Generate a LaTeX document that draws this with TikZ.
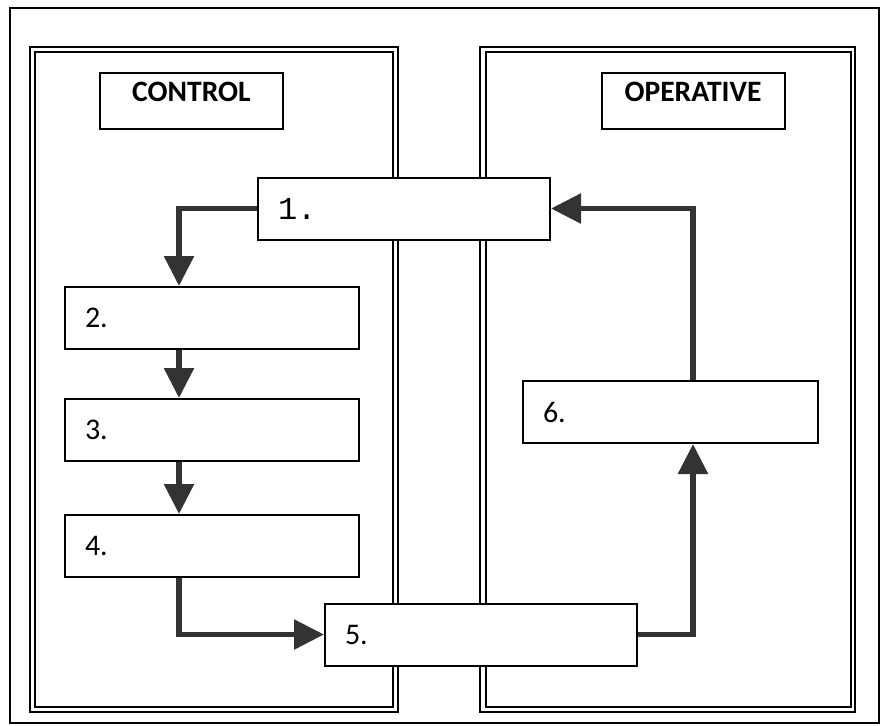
\documentclass[tikz,border=0pt]{standalone}
\usepackage{fontspec}
\setmainfont{Carlito}
\newfontfamily\monofont{Liberation Mono}
\usetikzlibrary{positioning,arrows.meta}

\begin{document}
\begin{tikzpicture}[
      x=0.5pt, y=-0.5pt,
      numbox/.style={draw,fill=white,line width=1pt,minimum height=31pt,inner xsep=10pt,inner ysep=0pt,text width=#1,align=left,font=\fontsize{15}{17}\selectfont},
      titlebox/.style={draw,line width=1pt,inner sep=0pt,text width=91.5pt,text height=14pt,text depth=14pt,align=center,font=\bfseries\fontsize{14.8}{17}\selectfont},
      flow/.style={draw=black!80,line width=2.8pt,-{Triangle[width=14.5pt,length=15pt]}},
      panel/.style={line width=1.1pt}
    ]
    \useasboundingbox (0,0) rectangle (880,725);
    \draw[line width=0.6pt] (10,8) rectangle (879,723);
    % the two panels, double lined
    \draw[panel,line width=1.4pt] (30,47) rectangle (398,712);
    \draw[panel] (35,52) rectangle (393,707);
    \draw[panel,line width=1.4pt] (480,47) rectangle (855,712);
    \draw[panel] (486,52) rectangle (851,707);
    \node[titlebox] (ctrl) at (191.5,101) {CONTROL};
    \node[titlebox] (oper) at (693,101) {OPERATIVE};
    % steps
    \node[numbox=126pt] (b1) at (404,208.5) {\monofont\fontsize{16}{18}\selectfont 1.};
    \node[numbox=127pt] (b2) at (212,318) {2.};
    \node[numbox=127pt, below=24pt of b2] (b3) {3.};
    \node[numbox=127pt, below=26pt of b3] (b4) {4.};
    \node[numbox=136pt] (b5) at (481,634.5) {5.};
    \node[numbox=127.5pt] (b6) at (670.5,412) {6.};
    \coordinate (ax) at (179,0);
    \coordinate (bx) at (693,0);
    \draw[flow] (b1.west) -| (b2.north -| ax);
    \draw[flow] (b2.south -| ax) -- (b3.north -| ax);
    \draw[flow] (b3.south -| ax) -- (b4.north -| ax);
    \draw[flow] (b4.south -| ax) |- (b5.west);
    \draw[flow] (b5.east) -| (b6.south -| bx);
    \draw[flow] (b6.north -| bx) |- (b1.east);
\end{tikzpicture}
\end{document}
